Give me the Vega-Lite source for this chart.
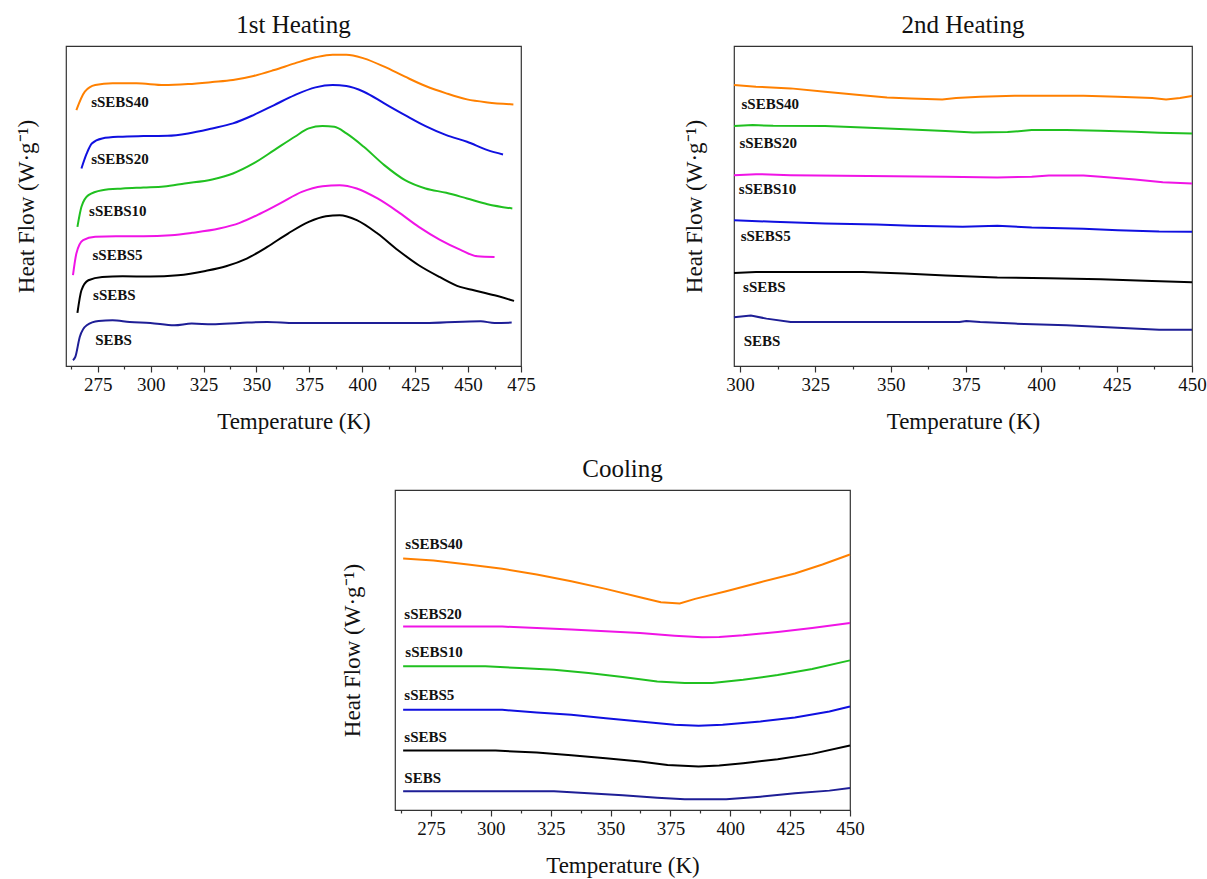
{
  "$schema": "https://vega.github.io/schema/vega-lite/v6.json",
  "padding": {"left": 14, "top": 12, "right": 0, "bottom": 0},
  "background": "white",
  "datasets": {
    "h1": [
      {"sample":"sSEBS40","T":264.9,"hf":76.7},{"sample":"sSEBS40","T":268.9,"hf":82.2},{"sample":"sSEBS40","T":273.8,"hf":84.2},{"sample":"sSEBS40","T":282.0,"hf":84.7},{"sample":"sSEBS40","T":293.3,"hf":84.7},{"sample":"sSEBS40","T":306.3,"hf":84.2},{"sample":"sSEBS40","T":317.7,"hf":84.5},{"sample":"sSEBS40","T":329.1,"hf":85.1},{"sample":"sSEBS40","T":338.9,"hf":85.7},{"sample":"sSEBS40","T":348.6,"hf":86.9},{"sample":"sSEBS40","T":358.4,"hf":88.7},{"sample":"sSEBS40","T":368.1,"hf":90.7},{"sample":"sSEBS40","T":377.9,"hf":92.5},{"sample":"sSEBS40","T":386.0,"hf":93.3},{"sample":"sSEBS40","T":392.5,"hf":93.3},{"sample":"sSEBS40","T":400.7,"hf":92.2},{"sample":"sSEBS40","T":410.4,"hf":89.7},{"sample":"sSEBS40","T":420.2,"hf":86.7},{"sample":"sSEBS40","T":429.9,"hf":83.9},{"sample":"sSEBS40","T":439.7,"hf":81.7},{"sample":"sSEBS40","T":449.5,"hf":79.9},{"sample":"sSEBS40","T":459.2,"hf":79.0},{"sample":"sSEBS40","T":471.4,"hf":78.4},
      {"sample":"sSEBS20","T":267.3,"hf":59.2},{"sample":"sSEBS20","T":269.8,"hf":63.7},{"sample":"sSEBS20","T":272.2,"hf":66.7},{"sample":"sSEBS20","T":277.1,"hf":68.2},{"sample":"sSEBS20","T":285.2,"hf":68.7},{"sample":"sSEBS20","T":296.6,"hf":68.9},{"sample":"sSEBS20","T":308.0,"hf":69.0},{"sample":"sSEBS20","T":317.7,"hf":69.7},{"sample":"sSEBS20","T":329.1,"hf":71.2},{"sample":"sSEBS20","T":338.9,"hf":72.7},{"sample":"sSEBS20","T":348.6,"hf":75.2},{"sample":"sSEBS20","T":358.4,"hf":78.2},{"sample":"sSEBS20","T":368.1,"hf":81.2},{"sample":"sSEBS20","T":377.9,"hf":83.5},{"sample":"sSEBS20","T":386.0,"hf":84.2},{"sample":"sSEBS20","T":392.5,"hf":83.9},{"sample":"sSEBS20","T":400.7,"hf":82.2},{"sample":"sSEBS20","T":410.4,"hf":78.7},{"sample":"sSEBS20","T":420.2,"hf":75.2},{"sample":"sSEBS20","T":429.9,"hf":71.9},{"sample":"sSEBS20","T":439.7,"hf":69.2},{"sample":"sSEBS20","T":449.5,"hf":67.2},{"sample":"sSEBS20","T":459.2,"hf":64.7},{"sample":"sSEBS20","T":466.5,"hf":63.4},
      {"sample":"sSEBS10","T":265.4,"hf":41.7},{"sample":"sSEBS10","T":267.3,"hf":47.7},{"sample":"sSEBS10","T":270.6,"hf":51.2},{"sample":"sSEBS10","T":277.1,"hf":52.7},{"sample":"sSEBS10","T":286.8,"hf":53.2},{"sample":"sSEBS10","T":296.6,"hf":53.5},{"sample":"sSEBS10","T":306.3,"hf":53.8},{"sample":"sSEBS10","T":316.1,"hf":54.7},{"sample":"sSEBS10","T":329.1,"hf":55.9},{"sample":"sSEBS10","T":338.9,"hf":57.7},{"sample":"sSEBS10","T":348.6,"hf":60.7},{"sample":"sSEBS10","T":358.4,"hf":64.7},{"sample":"sSEBS10","T":368.1,"hf":68.7},{"sample":"sSEBS10","T":374.7,"hf":71.2},{"sample":"sSEBS10","T":381.2,"hf":71.9},{"sample":"sSEBS10","T":386.8,"hf":71.7},{"sample":"sSEBS10","T":392.5,"hf":69.7},{"sample":"sSEBS10","T":400.7,"hf":65.7},{"sample":"sSEBS10","T":410.4,"hf":60.2},{"sample":"sSEBS10","T":420.2,"hf":55.7},{"sample":"sSEBS10","T":429.9,"hf":53.2},{"sample":"sSEBS10","T":439.7,"hf":51.9},{"sample":"sSEBS10","T":449.5,"hf":50.2},{"sample":"sSEBS10","T":459.2,"hf":48.5},{"sample":"sSEBS10","T":470.9,"hf":47.2},
      {"sample":"sSEBS5","T":263.3,"hf":27.2},{"sample":"sSEBS5","T":264.9,"hf":33.7},{"sample":"sSEBS5","T":268.1,"hf":37.7},{"sample":"sSEBS5","T":273.8,"hf":38.7},{"sample":"sSEBS5","T":283.6,"hf":38.9},{"sample":"sSEBS5","T":296.6,"hf":38.9},{"sample":"sSEBS5","T":309.6,"hf":39.2},{"sample":"sSEBS5","T":319.4,"hf":39.9},{"sample":"sSEBS5","T":332.4,"hf":41.2},{"sample":"sSEBS5","T":342.1,"hf":42.9},{"sample":"sSEBS5","T":351.9,"hf":45.7},{"sample":"sSEBS5","T":361.6,"hf":48.9},{"sample":"sSEBS5","T":371.4,"hf":52.2},{"sample":"sSEBS5","T":381.2,"hf":53.9},{"sample":"sSEBS5","T":389.3,"hf":54.2},{"sample":"sSEBS5","T":397.4,"hf":53.2},{"sample":"sSEBS5","T":407.2,"hf":50.2},{"sample":"sSEBS5","T":416.9,"hf":46.2},{"sample":"sSEBS5","T":426.7,"hf":41.7},{"sample":"sSEBS5","T":436.5,"hf":37.9},{"sample":"sSEBS5","T":446.2,"hf":34.9},{"sample":"sSEBS5","T":454.3,"hf":32.9},{"sample":"sSEBS5","T":462.5,"hf":32.7},
      {"sample":"sSEBS","T":265.4,"hf":15.9},{"sample":"sSEBS","T":267.3,"hf":22.7},{"sample":"sSEBS","T":270.6,"hf":25.7},{"sample":"sSEBS","T":277.1,"hf":26.7},{"sample":"sSEBS","T":286.8,"hf":26.9},{"sample":"sSEBS","T":299.8,"hf":26.8},{"sample":"sSEBS","T":312.9,"hf":27.2},{"sample":"sSEBS","T":325.9,"hf":28.5},{"sample":"sSEBS","T":335.6,"hf":29.9},{"sample":"sSEBS","T":345.4,"hf":32.2},{"sample":"sSEBS","T":355.1,"hf":35.7},{"sample":"sSEBS","T":364.9,"hf":39.7},{"sample":"sSEBS","T":374.7,"hf":43.2},{"sample":"sSEBS","T":382.8,"hf":44.9},{"sample":"sSEBS","T":389.3,"hf":45.2},{"sample":"sSEBS","T":397.4,"hf":43.7},{"sample":"sSEBS","T":407.2,"hf":39.7},{"sample":"sSEBS","T":416.9,"hf":34.7},{"sample":"sSEBS","T":426.7,"hf":30.2},{"sample":"sSEBS","T":436.5,"hf":26.7},{"sample":"sSEBS","T":446.2,"hf":23.7},{"sample":"sSEBS","T":452.7,"hf":22.7},{"sample":"sSEBS","T":462.5,"hf":21.2},{"sample":"sSEBS","T":471.7,"hf":19.5},
      {"sample":"SEBS","T":263.3,"hf":1.7},{"sample":"SEBS","T":264.4,"hf":2.7},{"sample":"SEBS","T":266.5,"hf":8.7},{"sample":"SEBS","T":269.8,"hf":12.2},{"sample":"SEBS","T":275.4,"hf":13.5},{"sample":"SEBS","T":282.0,"hf":13.7},{"sample":"SEBS","T":290.1,"hf":13.2},{"sample":"SEBS","T":299.8,"hf":12.9},{"sample":"SEBS","T":311.2,"hf":12.2},{"sample":"SEBS","T":319.4,"hf":12.7},{"sample":"SEBS","T":329.1,"hf":12.5},{"sample":"SEBS","T":342.1,"hf":12.9},{"sample":"SEBS","T":355.1,"hf":13.2},{"sample":"SEBS","T":368.1,"hf":12.9},{"sample":"SEBS","T":384.4,"hf":12.9},{"sample":"SEBS","T":407.2,"hf":12.9},{"sample":"SEBS","T":431.6,"hf":12.9},{"sample":"SEBS","T":456.0,"hf":13.4},{"sample":"SEBS","T":462.5,"hf":12.9},{"sample":"SEBS","T":470.6,"hf":13.0}
    ],
    "h1lab": [
      {"sample":"sSEBS40","T":271.9,"hf":79.2},{"sample":"sSEBS20","T":271.9,"hf":61.9},{"sample":"sSEBS10","T":270.9,"hf":46.5},{"sample":"sSEBS5","T":272.5,"hf":33.4},{"sample":"sSEBS","T":272.8,"hf":21.4},{"sample":"SEBS","T":273.8,"hf":7.7}
    ],
    "h2": [
      {"sample":"sSEBS40","T":298,"hf":84.2},{"sample":"sSEBS40","T":305.3,"hf":83.7},{"sample":"sSEBS40","T":316.8,"hf":83.2},{"sample":"sSEBS40","T":328.2,"hf":82.2},{"sample":"sSEBS40","T":339.6,"hf":81.2},{"sample":"sSEBS40","T":348.8,"hf":80.5},{"sample":"sSEBS40","T":356.8,"hf":80.2},{"sample":"sSEBS40","T":367.1,"hf":79.9},{"sample":"sSEBS40","T":371.7,"hf":80.3},{"sample":"sSEBS40","T":379.7,"hf":80.7},{"sample":"sSEBS40","T":391.1,"hf":81.0},{"sample":"sSEBS40","T":402.5,"hf":81.0},{"sample":"sSEBS40","T":414.0,"hf":81.0},{"sample":"sSEBS40","T":425.4,"hf":80.7},{"sample":"sSEBS40","T":436.8,"hf":80.3},{"sample":"sSEBS40","T":441.4,"hf":79.9},{"sample":"sSEBS40","T":446.0,"hf":80.3},{"sample":"sSEBS40","T":450,"hf":80.9},
      {"sample":"sSEBS20","T":298,"hf":71.9},{"sample":"sSEBS20","T":304.2,"hf":72.2},{"sample":"sSEBS20","T":311.0,"hf":72.0},{"sample":"sSEBS20","T":328.2,"hf":71.9},{"sample":"sSEBS20","T":340.8,"hf":71.5},{"sample":"sSEBS20","T":356.8,"hf":70.9},{"sample":"sSEBS20","T":368.2,"hf":70.4},{"sample":"sSEBS20","T":377.4,"hf":70.0},{"sample":"sSEBS20","T":388.8,"hf":70.1},{"sample":"sSEBS20","T":396.8,"hf":70.7},{"sample":"sSEBS20","T":408.3,"hf":70.7},{"sample":"sSEBS20","T":419.7,"hf":70.5},{"sample":"sSEBS20","T":431.1,"hf":70.2},{"sample":"sSEBS20","T":439.1,"hf":69.9},{"sample":"sSEBS20","T":450,"hf":69.7},
      {"sample":"sSEBS10","T":298,"hf":57.2},{"sample":"sSEBS10","T":305.3,"hf":57.5},{"sample":"sSEBS10","T":316.8,"hf":57.2},{"sample":"sSEBS10","T":333.9,"hf":57.0},{"sample":"sSEBS10","T":351.1,"hf":56.9},{"sample":"sSEBS10","T":368.2,"hf":56.7},{"sample":"sSEBS10","T":385.4,"hf":56.5},{"sample":"sSEBS10","T":396.8,"hf":56.7},{"sample":"sSEBS10","T":402.5,"hf":57.1},{"sample":"sSEBS10","T":414.0,"hf":57.1},{"sample":"sSEBS10","T":419.7,"hf":56.7},{"sample":"sSEBS10","T":431.1,"hf":55.9},{"sample":"sSEBS10","T":440.3,"hf":55.1},{"sample":"sSEBS10","T":450,"hf":54.7},
      {"sample":"sSEBS5","T":298,"hf":43.7},{"sample":"sSEBS5","T":311.0,"hf":43.2},{"sample":"sSEBS5","T":328.2,"hf":42.7},{"sample":"sSEBS5","T":345.3,"hf":42.4},{"sample":"sSEBS5","T":356.8,"hf":42.0},{"sample":"sSEBS5","T":373.9,"hf":41.7},{"sample":"sSEBS5","T":385.4,"hf":42.0},{"sample":"sSEBS5","T":396.8,"hf":41.5},{"sample":"sSEBS5","T":414.0,"hf":41.1},{"sample":"sSEBS5","T":425.4,"hf":40.7},{"sample":"sSEBS5","T":439.1,"hf":40.3},{"sample":"sSEBS5","T":450,"hf":40.2},
      {"sample":"sSEBS","T":298,"hf":27.9},{"sample":"sSEBS","T":305.3,"hf":28.2},{"sample":"sSEBS","T":322.5,"hf":28.2},{"sample":"sSEBS","T":340.8,"hf":28.2},{"sample":"sSEBS","T":354.5,"hf":27.7},{"sample":"sSEBS","T":368.2,"hf":27.1},{"sample":"sSEBS","T":385.4,"hf":26.5},{"sample":"sSEBS","T":402.5,"hf":26.3},{"sample":"sSEBS","T":419.7,"hf":26.0},{"sample":"sSEBS","T":436.8,"hf":25.5},{"sample":"sSEBS","T":450,"hf":25.1},
      {"sample":"SEBS","T":298,"hf":14.6},{"sample":"SEBS","T":303.6,"hf":15.1},{"sample":"SEBS","T":308.8,"hf":14.2},{"sample":"SEBS","T":316.8,"hf":13.2},{"sample":"SEBS","T":333.9,"hf":13.2},{"sample":"SEBS","T":356.8,"hf":13.2},{"sample":"SEBS","T":372.8,"hf":13.2},{"sample":"SEBS","T":375.1,"hf":13.5},{"sample":"SEBS","T":379.7,"hf":13.2},{"sample":"SEBS","T":391.1,"hf":12.7},{"sample":"SEBS","T":408.3,"hf":12.2},{"sample":"SEBS","T":425.4,"hf":11.5},{"sample":"SEBS","T":439.1,"hf":10.9},{"sample":"SEBS","T":450,"hf":10.9}
    ],
    "h2lab": [
      {"sample":"sSEBS40","T":300.5,"hf":78.4},{"sample":"sSEBS20","T":299.8,"hf":66.7},{"sample":"sSEBS10","T":299.6,"hf":52.9},{"sample":"sSEBS5","T":300.2,"hf":38.9},{"sample":"sSEBS","T":301.0,"hf":23.7},{"sample":"SEBS","T":301.2,"hf":7.5}
    ],
    "c": [
      {"sample":"sSEBS40","T":263.4,"hf":75.3},{"sample":"sSEBS40","T":276.1,"hf":74.7},{"sample":"sSEBS40","T":290.5,"hf":73.5},{"sample":"sSEBS40","T":304.8,"hf":72.2},{"sample":"sSEBS40","T":319.2,"hf":70.5},{"sample":"sSEBS40","T":333.6,"hf":68.5},{"sample":"sSEBS40","T":348.0,"hf":66.2},{"sample":"sSEBS40","T":362.3,"hf":63.7},{"sample":"sSEBS40","T":371.0,"hf":62.2},{"sample":"sSEBS40","T":378.9,"hf":61.8},{"sample":"sSEBS40","T":385.3,"hf":63.2},{"sample":"sSEBS40","T":398.3,"hf":65.5},{"sample":"sSEBS40","T":412.6,"hf":68.2},{"sample":"sSEBS40","T":427.0,"hf":70.8},{"sample":"sSEBS40","T":438.5,"hf":73.5},{"sample":"sSEBS40","T":450,"hf":76.5},
      {"sample":"sSEBS20","T":263.4,"hf":54.9},{"sample":"sSEBS20","T":304.8,"hf":54.9},{"sample":"sSEBS20","T":333.6,"hf":54.0},{"sample":"sSEBS20","T":362.3,"hf":53.0},{"sample":"sSEBS20","T":376.7,"hf":52.2},{"sample":"sSEBS20","T":388.2,"hf":51.7},{"sample":"sSEBS20","T":395.4,"hf":51.8},{"sample":"sSEBS20","T":405.4,"hf":52.3},{"sample":"sSEBS20","T":419.8,"hf":53.3},{"sample":"sSEBS20","T":434.2,"hf":54.5},{"sample":"sSEBS20","T":450,"hf":56.0},
      {"sample":"sSEBS10","T":263.4,"hf":43.0},{"sample":"sSEBS10","T":297.7,"hf":43.0},{"sample":"sSEBS10","T":312.0,"hf":42.5},{"sample":"sSEBS10","T":326.4,"hf":42.0},{"sample":"sSEBS10","T":340.8,"hf":41.0},{"sample":"sSEBS10","T":355.1,"hf":39.8},{"sample":"sSEBS10","T":369.5,"hf":38.5},{"sample":"sSEBS10","T":381.0,"hf":38.0},{"sample":"sSEBS10","T":392.5,"hf":38.0},{"sample":"sSEBS10","T":405.4,"hf":39.0},{"sample":"sSEBS10","T":419.8,"hf":40.4},{"sample":"sSEBS10","T":434.2,"hf":42.2},{"sample":"sSEBS10","T":450,"hf":44.8},
      {"sample":"sSEBS5","T":263.4,"hf":30.0},{"sample":"sSEBS5","T":304.8,"hf":30.0},{"sample":"sSEBS5","T":319.2,"hf":29.2},{"sample":"sSEBS5","T":333.6,"hf":28.5},{"sample":"sSEBS5","T":348.0,"hf":27.5},{"sample":"sSEBS5","T":362.3,"hf":26.5},{"sample":"sSEBS5","T":376.7,"hf":25.5},{"sample":"sSEBS5","T":386.8,"hf":25.2},{"sample":"sSEBS5","T":396.8,"hf":25.5},{"sample":"sSEBS5","T":412.6,"hf":26.5},{"sample":"sSEBS5","T":427.0,"hf":27.7},{"sample":"sSEBS5","T":441.4,"hf":29.5},{"sample":"sSEBS5","T":450,"hf":31.0},
      {"sample":"sSEBS","T":263.4,"hf":17.8},{"sample":"sSEBS","T":302.0,"hf":17.8},{"sample":"sSEBS","T":319.2,"hf":17.2},{"sample":"sSEBS","T":333.6,"hf":16.4},{"sample":"sSEBS","T":348.0,"hf":15.5},{"sample":"sSEBS","T":362.3,"hf":14.5},{"sample":"sSEBS","T":373.8,"hf":13.5},{"sample":"sSEBS","T":386.8,"hf":13.0},{"sample":"sSEBS","T":395.4,"hf":13.3},{"sample":"sSEBS","T":405.4,"hf":14.0},{"sample":"sSEBS","T":419.8,"hf":15.2},{"sample":"sSEBS","T":434.2,"hf":16.8},{"sample":"sSEBS","T":450,"hf":19.3},
      {"sample":"SEBS","T":263.4,"hf":5.6},{"sample":"SEBS","T":326.4,"hf":5.6},{"sample":"SEBS","T":340.8,"hf":5.0},{"sample":"SEBS","T":355.1,"hf":4.4},{"sample":"SEBS","T":369.5,"hf":3.7},{"sample":"SEBS","T":381.0,"hf":3.2},{"sample":"SEBS","T":398.3,"hf":3.2},{"sample":"SEBS","T":412.6,"hf":4.0},{"sample":"SEBS","T":427.0,"hf":5.0},{"sample":"SEBS","T":441.4,"hf":5.8},{"sample":"SEBS","T":450,"hf":6.6}
    ],
    "clab": [
      {"sample":"sSEBS40","T":264.3,"hf":79.7},{"sample":"sSEBS20","T":263.9,"hf":58.8},{"sample":"sSEBS10","T":264.3,"hf":47.2},{"sample":"sSEBS5","T":263.9,"hf":34.5},{"sample":"sSEBS","T":263.9,"hf":21.8},{"sample":"SEBS","T":263.9,"hf":9.5}
    ],
    "none": []
  },
  "vconcat": [
    {
      "hconcat": [
        {
          "width": 455, "height": 320,
          "title": "1st Heating",
          "layer": [
            {
              "data": {"name": "h1"},
              "mark": {"type": "line", "strokeWidth": 2, "interpolate": "monotone"},
              "encoding": {
                "x": {"field": "T", "type": "quantitative", "scale": {"domain": [260, 475], "nice": false, "zero": false},
                  "axis": {"title": "Temperature (K)", "values": [262.5,275,287.5,300,312.5,325,337.5,350,362.5,375,387.5,400,412.5,425,437.5,450,462.5,475],
                    "tickCount": 100, "labelOverlap": false, "format": "d",
                    "labelExpr": "datum.value % 25 === 0 ? datum.label : ''",
                    "tickSize": {"condition": {"test": "datum.value % 25 === 0", "value": 6}, "value": 3}}},
                "y": {"field": "hf", "type": "quantitative", "scale": {"domain": [0, 95.9], "nice": false, "zero": false}, "axis": {"title": "Heat Flow (W·g⁻¹)"}},
                "color": {"field": "sample", "type": "nominal", "legend": null,
                  "scale": {"domain": ["sSEBS40","sSEBS20","sSEBS10","sSEBS5","sSEBS","SEBS"], "range": ["#FF8000","#1010E0","#20C020","#F014E6","#000000","#1E1E96"]}}
              }
            },
            {
              "data": {"name": "h1lab"},
              "mark": {"type": "text", "align": "left", "baseline": "middle", "font": "Liberation Serif", "fontWeight": "bold", "fontSize": 15, "color": "#111"},
              "encoding": {
                "x": {"field": "T", "type": "quantitative"},
                "y": {"field": "hf", "type": "quantitative"},
                "text": {"field": "sample"}
              }
            }
          ]
        },
        {
          "width": 458, "height": 320,
          "title": "2nd Heating",
          "layer": [
            {
              "data": {"name": "h2"},
              "mark": {"type": "line", "strokeWidth": 2, "interpolate": "linear"},
              "encoding": {
                "x": {"field": "T", "type": "quantitative", "scale": {"domain": [298, 450], "nice": false, "zero": false},
                  "axis": {"title": "Temperature (K)", "values": [300,312.5,325,337.5,350,362.5,375,387.5,400,412.5,425,437.5,450],
                    "tickCount": 100, "labelOverlap": false, "format": "d",
                    "labelExpr": "datum.value % 25 === 0 ? datum.label : ''",
                    "tickSize": {"condition": {"test": "datum.value % 25 === 0", "value": 6}, "value": 3}}},
                "y": {"field": "hf", "type": "quantitative", "scale": {"domain": [0, 95.9], "nice": false, "zero": false}, "axis": {"title": "Heat Flow (W·g⁻¹)"}},
                "color": {"field": "sample", "type": "nominal", "legend": null,
                  "scale": {"domain": ["sSEBS40","sSEBS20","sSEBS10","sSEBS5","sSEBS","SEBS"], "range": ["#FF8000","#20C020","#F014E6","#1010E0","#000000","#1E1E96"]}}
              }
            },
            {
              "data": {"name": "h2lab"},
              "mark": {"type": "text", "align": "left", "baseline": "middle", "font": "Liberation Serif", "fontWeight": "bold", "fontSize": 15, "color": "#111"},
              "encoding": {
                "x": {"field": "T", "type": "quantitative"},
                "y": {"field": "hf", "type": "quantitative"},
                "text": {"field": "sample"}
              }
            }
          ]
        }
      ],
      "spacing": 146,
      "resolve": {"scale": {"color": "independent"}}
    },
    {
      "hconcat": [
        {
          "width": 274, "height": 320,
          "data": {"name": "none"},
          "mark": "point",
          "view": {"stroke": null}
        },
        {
          "width": 455, "height": 320,
          "title": "Cooling",
          "layer": [
            {
              "data": {"name": "c"},
              "mark": {"type": "line", "strokeWidth": 2, "interpolate": "linear"},
              "encoding": {
                "x": {"field": "T", "type": "quantitative", "scale": {"domain": [260, 450], "nice": false, "zero": false},
                  "axis": {"title": "Temperature (K)", "values": [262.5,275,287.5,300,312.5,325,337.5,350,362.5,375,387.5,400,412.5,425,437.5,450],
                    "tickCount": 100, "labelOverlap": false, "format": "d",
                    "labelExpr": "datum.value % 25 === 0 ? datum.label : ''",
                    "tickSize": {"condition": {"test": "datum.value % 25 === 0", "value": 6}, "value": 3}}},
                "y": {"field": "hf", "type": "quantitative", "scale": {"domain": [0, 95.8], "nice": false, "zero": false}, "axis": {"title": "Heat Flow (W·g⁻¹)", "titlePadding": 31}},
                "color": {"field": "sample", "type": "nominal", "legend": null,
                  "scale": {"domain": ["sSEBS40","sSEBS20","sSEBS10","sSEBS5","sSEBS","SEBS"], "range": ["#FF8000","#F014E6","#20C020","#1010E0","#000000","#1E1E96"]}}
              }
            },
            {
              "data": {"name": "clab"},
              "mark": {"type": "text", "align": "left", "baseline": "middle", "font": "Liberation Serif", "fontWeight": "bold", "fontSize": 15, "color": "#111"},
              "encoding": {
                "x": {"field": "T", "type": "quantitative"},
                "y": {"field": "hf", "type": "quantitative"},
                "text": {"field": "sample"}
              }
            }
          ]
        }
      ],
      "spacing": 0,
      "resolve": {"scale": {"color": "independent"}}
    }
  ],
  "spacing": 22,
  "resolve": {"scale": {"color": "independent"}},
  "config": {
    "font": "Liberation Serif",
    "view": {"stroke": "#333333", "strokeWidth": 1.2},
    "axis": {"labelFont": "Liberation Serif", "labelFontSize": 19, "labelColor": "#111111", "titleFont": "Liberation Serif", "titleFontSize": 23, "titleFontWeight": "normal", "titleColor": "#111111", "tickColor": "#333333", "tickWidth": 1.2, "grid": false, "domain": false, "labelPadding": 3, "labelOverlap": false, "labelFlush": false},
    "axisX": {"titlePadding": 16},
    "axisY": {"labels": false, "ticks": false, "titlePadding": 28},
    "title": {"font": "Liberation Serif", "fontSize": 25, "fontWeight": "normal", "color": "#111111", "offset": 8}
  }
}
